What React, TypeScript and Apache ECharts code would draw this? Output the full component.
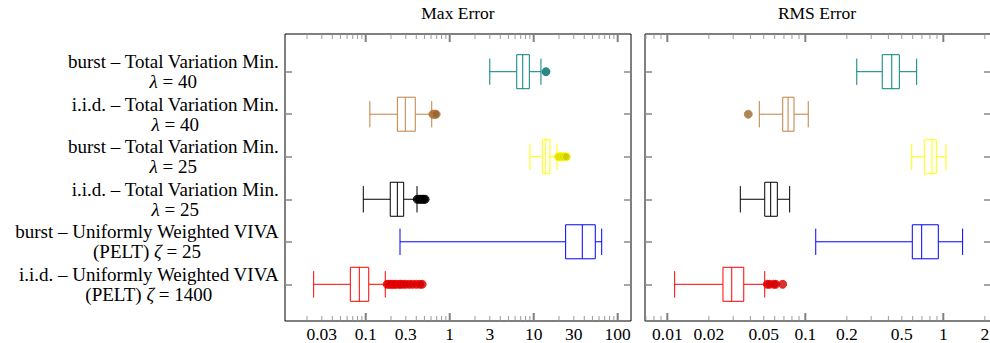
import React, { useEffect, useRef } from "react";
import * as echarts from "echarts";

const categories = [
  "burst – Total Variation Min.\nλ = 40",
  "i.i.d. – Total Variation Min.\nλ = 40",
  "burst – Total Variation Min.\nλ = 25",
  "i.i.d. – Total Variation Min.\nλ = 25",
  "burst – Uniformly Weighted VIVA\n(PELT) ζ = 25",
  "i.i.d. – Uniformly Weighted VIVA\n(PELT) ζ = 1400",
];

const boxColors = ["#008080", "#bf8040", "#ffff00", "#000000", "#0000ff", "#ff0000"];
const outlierFills = ["#006666", "#996633", "#cccc00", "#000000", "#0000cc", "#cc0000"];

// [lower whisker, Q1, median, Q3, upper whisker]
const maxErrorBoxes = [
  [3.0, 6.28, 7.4, 8.87, 12.2],
  [0.112, 0.238, 0.296, 0.389, 0.611],
  [9.03, 12.66, 13.9, 15.6, 18.9],
  [0.0936, 0.196, 0.238, 0.283, 0.408],
  [0.256, 24.0, 37.9, 54.1, 64.5],
  [0.024, 0.0656, 0.0839, 0.1086, 0.171],
];
const maxErrorOutliers = [
  [14.0],
  [0.63, 0.65, 0.67, 0.69],
  [19.7, 20.5, 21.5, 22.5, 23.5, 24.5],
  [0.41, 0.43, 0.45, 0.47, 0.49, 0.51],
  [],
  [0.18, 0.19, 0.2, 0.21, 0.22, 0.23, 0.25, 0.26, 0.28, 0.3, 0.33, 0.36, 0.4, 0.44, 0.47],
];

const rmsErrorBoxes = [
  [0.236, 0.361, 0.423, 0.48, 0.641],
  [0.0464, 0.0686, 0.075, 0.0828, 0.105],
  [0.59, 0.728, 0.828, 0.89, 1.046],
  [0.0338, 0.0508, 0.0561, 0.0627, 0.077],
  [0.119, 0.596, 0.697, 0.92, 1.38],
  [0.0113, 0.0253, 0.0293, 0.0358, 0.0508],
];
const rmsErrorOutliers = [
  [],
  [0.0386],
  [],
  [],
  [],
  [0.053, 0.055, 0.059, 0.061, 0.0685],
];

const maxErrorTickLabels = ["0.03", "0.1", "0.3", "1", "3", "10", "30", "100"];
const rmsErrorTickLabels = ["0.01", "0.02", "0.05", "0.1", "0.2", "0.5", "1", "2"];
const maxErrorDecades = [0.01, 0.1, 1, 10, 100];
const rmsErrorDecades = [0.001, 0.01, 0.1, 1];
const maxErrorRange = [0.01094, 144];
const rmsErrorRange = [0.00689, 2.216];

const FONT = "Liberation Serif";
const Y_MIN = -0.8866;
const Y_MAX = 5.863;

const minorOf = (decades: number[]) => {
  const out: number[] = [];
  decades.forEach((d) => {
    for (let k = 2; k <= 9; k++) out.push(+(d * k).toPrecision(6));
  });
  return out;
};

const richLabel = (s: string) =>
  s
    .split("\n")
    .map((line) =>
      line
        .split(/([λζ])/)
        .filter((t) => t.length > 0)
        .map((t) => (/[λζ]/.test(t) ? `{g|${t}}` : `{c|${t}}`))
        .join("")
    )
    .join("\n");

export default function App() {
  const ref = useRef<HTMLDivElement>(null);

  useEffect(() => {
    document.body.style.margin = "0";
    if (!ref.current) return;
    const chart = echarts.init(ref.current, null, { renderer: "svg" });

    const panels = [
      {
        left: 285,
        right: 359,
        range: maxErrorRange,
        boxes: maxErrorBoxes,
        outliers: maxErrorOutliers,
        labels: maxErrorTickLabels,
        decades: maxErrorDecades,
      },
      {
        left: 645,
        right: -1,
        range: rmsErrorRange,
        boxes: rmsErrorBoxes,
        outliers: rmsErrorOutliers,
        labels: rmsErrorTickLabels,
        decades: rmsErrorDecades,
      },
    ];

    const catIdx = categories.map((_, i) => i);
    const grids: any[] = [];
    const xAxes: any[] = [];
    const yAxes: any[] = [];
    const series: any[] = [];

    panels.forEach((p, pi) => {
      grids.push({
        left: p.left,
        right: p.right,
        top: 34,
        bottom: 22,
        show: true,
        borderColor: "#000",
        borderWidth: 1,
        containLabel: false,
        outerBoundsMode: "none",
      });
      const tickVals = p.labels.map(Number);
      xAxes.push({
        type: "log",
        logBase: 10,
        gridIndex: pi,
        min: p.range[0],
        max: p.range[1],
        position: "bottom",
        axisLine: { show: false, onZero: false },
        splitLine: { show: false },
        axisTick: { show: false },
        axisLabel: {
          show: true,
          customValues: tickVals,
          formatter: (v: number) => {
            let best = 0;
            tickVals.forEach((t, i) => {
              if (Math.abs(Math.log(t) - Math.log(v)) < Math.abs(Math.log(tickVals[best]) - Math.log(v))) best = i;
            });
            return p.labels[best];
          },
          margin: 4,
          fontFamily: FONT,
          fontSize: 17.5,
          color: "#000",
        },
      });

      const yBase = {
        type: "value",
        gridIndex: pi,
        min: Y_MIN,
        max: Y_MAX,
        inverse: true,
        axisLine: { show: false, onZero: false },
        splitLine: { show: false },
        axisTick: {
          show: true,
          inside: true,
          length: 7,
          customValues: catIdx,
          lineStyle: { color: "#888", width: 1.5 },
        },
      };
      yAxes.push({
        ...yBase,
        position: "left",
        axisLabel:
          pi === 0
            ? {
                show: true,
                customValues: catIdx,
                formatter: (v: number) => richLabel(categories[Math.round(v)] || ""),
                margin: 6,
                align: "right",
                verticalAlign: "middle",
                rich: {
                  c: { align: "center", fontFamily: FONT, fontSize: 19, lineHeight: 20, color: "#000" },
                  g: {
                    align: "center",
                    fontFamily: FONT,
                    fontSize: 19,
                    lineHeight: 20,
                    fontStyle: "italic",
                    color: "#000",
                  },
                },
              }
            : { show: false },
      });
      yAxes.push({ ...yBase, position: "right", axisLabel: { show: false } });

      const majors = p.decades.filter((v) => v >= p.range[0] && v <= p.range[1]);
      const minors = minorOf(p.decades).filter((v) => v >= p.range[0] && v <= p.range[1]);

      series.push({
        type: "custom",
        xAxisIndex: pi,
        yAxisIndex: pi * 2,
        clip: false,
        encode: { x: [1, 2, 3, 4, 5], y: 0 },
        data: p.boxes.map((b, i) => [i, ...b]),
        renderItem: (params: any, api: any) => {
          const idx = api.value(0);
          const lo = api.coord([api.value(1), idx]);
          const q1 = api.coord([api.value(2), idx]);
          const med = api.coord([api.value(3), idx]);
          const q3 = api.coord([api.value(4), idx]);
          const hi = api.coord([api.value(5), idx]);
          const yA = api.coord([api.value(3), idx - 0.5])[1];
          const yB = api.coord([api.value(3), idx + 0.5])[1];
          const band = Math.abs(yB - yA);
          const bh = band * 0.4;
          const ch = band * 0.31;
          const y = lo[1];
          const color = boxColors[idx];
          const ls = { stroke: color, lineWidth: 1, fill: null };
          const children: any[] = [
            { type: "line", shape: { x1: lo[0], y1: y, x2: q1[0], y2: y }, style: ls },
            { type: "line", shape: { x1: q3[0], y1: y, x2: hi[0], y2: y }, style: ls },
            { type: "line", shape: { x1: lo[0], y1: y - ch, x2: lo[0], y2: y + ch }, style: ls },
            { type: "line", shape: { x1: hi[0], y1: y - ch, x2: hi[0], y2: y + ch }, style: ls },
            {
              type: "rect",
              shape: { x: q1[0], y: y - bh, width: q3[0] - q1[0], height: 2 * bh },
              style: { stroke: color, fill: "#fff", lineWidth: 1 },
            },
            { type: "line", shape: { x1: med[0], y1: y - bh, x2: med[0], y2: y + bh }, style: ls },
          ];
          if (idx === 0) {
            // x-axis major and minor ticks on the top and bottom frame edges, pointing inward
            const addTick = (v: number, major: boolean) => {
              const top = api.coord([v, Y_MIN]);
              const bot = api.coord([v, Y_MAX]);
              const len = major ? 8 : 5;
              const st = { stroke: major ? "#808080" : "#9a9a9a", lineWidth: major ? 2 : 1 };
              children.push({ type: "line", shape: { x1: top[0], y1: top[1] + 0.5, x2: top[0], y2: top[1] + len }, style: st });
              children.push({ type: "line", shape: { x1: bot[0], y1: bot[1] - 0.5, x2: bot[0], y2: bot[1] - len }, style: st });
            };
            majors.forEach((v) => addTick(v, true));
            minors.forEach((v) => addTick(v, false));
          }
          return { type: "group", children };
        },
        z: 3,
      });

      series.push({
        type: "scatter",
        xAxisIndex: pi,
        yAxisIndex: pi * 2,
        clip: false,
        symbol: "circle",
        symbolSize: 8,
        z: 4,
        data: p.outliers.flatMap((arr, i) =>
          arr.map((v) => ({
            value: [v, i],
            itemStyle: { color: outlierFills[i], borderColor: boxColors[i], borderWidth: 1 },
          }))
        ),
      });
    });

    chart.setOption({
      animation: false,
      backgroundColor: "#fff",
      grid: grids,
      xAxis: xAxes,
      yAxis: yAxes,
      series,
      graphic: [
        {
          type: "text",
          x: 458,
          y: 13,
          style: { text: "Max Error", align: "center", verticalAlign: "middle", fontFamily: FONT, fontSize: 17.5, fill: "#000" },
        },
        {
          type: "text",
          x: 817,
          y: 13,
          style: { text: "RMS Error", align: "center", verticalAlign: "middle", fontFamily: FONT, fontSize: 17.5, fill: "#000" },
        },
      ],
    });

    return () => chart.dispose();
  }, []);

  return <div ref={ref} style={{ width: 990, height: 343 }} />;
}
